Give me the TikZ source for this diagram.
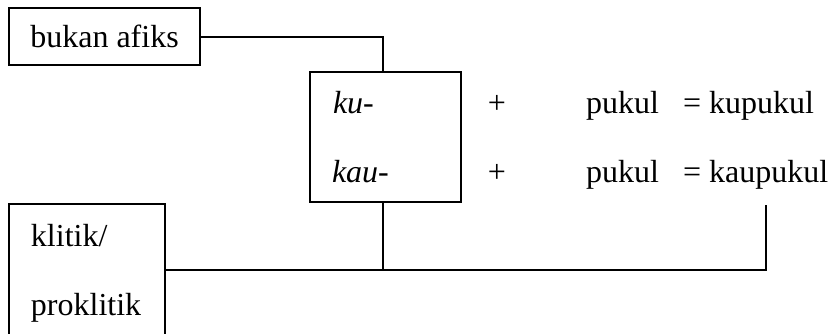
\documentclass[tikz,border=0pt]{standalone}
\usepackage{fontspec}
\setmainfont{Liberation Serif}
\begin{document}
\begin{tikzpicture}[x=0.5pt,y=-0.5pt, line width=1pt,
  box/.style={draw, rectangle, inner sep=0pt, outer sep=0pt},
  txt/.style={inner sep=0pt, anchor=base west, font=\fontsize{16}{19}\selectfont},
  lbl/.style={font=\fontsize{16}{19}\selectfont, inner sep=0pt}]
\useasboundingbox (0,0) rectangle (829,333);
\clip (0,0) rectangle (829,333);
% boxes
\node[box, lbl, minimum width=95.5pt, minimum height=28.5pt] (bukan) at (104.5,36.5) {bukan afiks};
\node[box, minimum width=75.5pt, minimum height=65pt] (kubox) at (385.5,137) {};
\node[box, minimum width=78pt, minimum height=66pt] (klitik) at (87,270) {};
% texts
\node[txt] (ku) at (332,113) {\itshape ku-};
\node[txt] (kau) at (331,182) {\itshape kau-};
\node[lbl, anchor=base] (plus1) at (497,113) {+};
\node[lbl, anchor=base] (plus2) at (497,182) {+};
\node[txt] (pukul1) at (585,113) {pukul};
\node[txt] (pukul2) at (585,182) {pukul};
\node[txt] (res1) at (682,113) {= kupukul};
\node[txt] (res2) at (682,182) {= kaupukul};
\node[txt] (klt) at (30,246) {klitik/};
\node[txt] (pkl) at (30,315) {proklitik};
% connectors
\coordinate (stem) at (383,0);
\coordinate (endr) at (766,205);
\draw (bukan.east) -| (stem |- kubox.north);
\draw (stem |- kubox.south) -- (stem |- klitik.east);
\draw (klitik.east) -| (endr);
\end{tikzpicture}
\end{document}
